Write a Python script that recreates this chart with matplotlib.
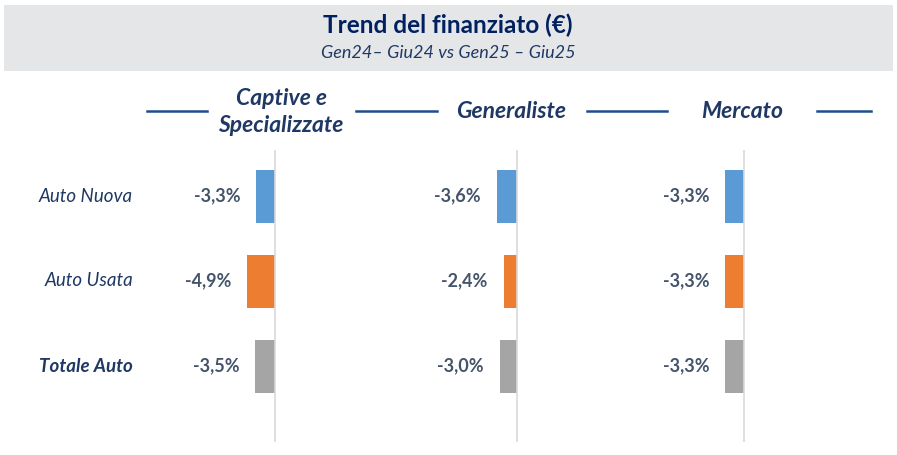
import numpy as np
import matplotlib.pyplot as plt
import matplotlib.patches as patches
import matplotlib.lines as mlines
import matplotlib.transforms as mtrans

plt.rcParams['font.family'] = ['Lato', 'DejaVu Sans']

# dati
righe = ['Auto Nuova', 'Auto Usata', 'Totale Auto']
gruppi = ['Captive e\nSpecializzate', 'Generaliste', 'Mercato']
valori = {
    'Captive e\nSpecializzate': [-3.3, -4.9, -3.5],
    'Generaliste': [-3.6, -2.4, -3.0],
    'Mercato': [-3.3, -3.3, -3.3],
}
colori = ['#5B9BD5', '#ED7D31', '#A5A5A5']

titolo = 'Trend del finanziato (€)'
sottotitolo = 'Gen24– Giu24 vs Gen25 – Giu25'

W, H = 897, 455
navy = '#002060'
testo_val = '#44546A'

fig = plt.figure(figsize=(W / 100, H / 100), dpi=100)

def fx(px):
    return px / W

def fy(py):
    return 1 - py / H

# riquadro titolo
fig.patches.append(patches.Rectangle((fx(4), fy(71)), fx(889), 66 / H,
                                     transform=fig.transFigure,
                                     facecolor='#E5E6E8', edgecolor='none'))
fig.text(fx(448), fy(25), titolo, ha='center', va='center', fontsize=17.5,
         fontweight='bold', color=navy)
fig.text(fx(448), fy(53), sottotitolo, ha='center', va='center', fontsize=13,
         style='italic', color='#1F3864')

# intestazioni con linee
for x0, x1 in [(147, 207), (356, 437), (587, 667), (817, 871)]:
    fig.lines.append(mlines.Line2D([fx(x0), fx(x1)], [fy(111), fy(111)],
                                   transform=fig.transFigure, color='#1F4E8C', lw=1.8))
hx = [281, 511, 742]
for g, x in zip(gruppi, hx):
    fig.text(fx(x), fy(112), g, ha='center', va='center', fontsize=16.5,
             fontweight='bold', style='italic', color='#1F3864', linespacing=1.3)

# pannelli
zeri = [276, 518, 745]
scala = 5.8  # px per punto %
larg = 150
y_top, y_bot = 150, 442
passo = 85
for g, z in zip(gruppi, zeri):
    ax = fig.add_axes([fx(z - larg), fy(y_bot), larg / W, (y_bot - y_top) / H])
    ax.set_xlim(-larg / scala, 0.6 / scala)
    ax.set_ylim(2 + (y_bot - 366) / passo, -(196 - y_top) / passo)
    v = valori[g]
    ypos = np.arange(len(righe))
    ax.barh(ypos, v, height=53 / passo, color=colori)
    ax.axvline(0, color='#D9D9D9', lw=1.2)
    for y, val in zip(ypos, v):
        ax.annotate(('%.1f%%' % val).replace('.', ','), (val, y),
                    xytext=(-16, 0), textcoords='offset pixels',
                    ha='right', va='center', fontsize=13, fontweight='bold',
                    color=testo_val)
    ax.axis('off')
    if z == zeri[0]:
        tr = mtrans.blended_transform_factory(fig.transFigure, ax.transData)
        for y, r in zip(ypos, righe):
            ax.text(fx(133), y, r, transform=tr, ha='right', va='center',
                    fontsize=13.5, style='italic', color='#1F3864',
                    fontweight='bold' if r == 'Totale Auto' else 'normal')

fig.savefig('out.png', dpi=100)
